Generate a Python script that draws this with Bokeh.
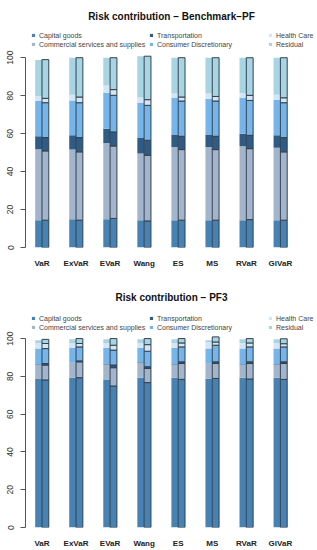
from bokeh.plotting import figure
from bokeh.models import ColumnDataSource, FixedTicker, Legend, LegendItem, Range1d
from bokeh.transform import dodge
from bokeh.layouts import column
from bokeh.embed import file_html
from bokeh.resources import INLINE

methods = ["VaR", "ExVaR", "EVaR", "Wang", "ES", "MS", "RVaR", "GlVaR"]
sectors = ["Capital goods", "Commercial services and supplies", "Transportation",
           "Consumer Discretionary", "Health Care", "Residual"]
colors = ["#4682B4", "#A2B5CD", "#2E5C87", "#74B6EC", "#D2E6F6", "#A8D5E3"]

# ---- Panel 1: Benchmark-PF, left bars (segment sizes, %)
p1_left_capital = [14.4, 14.9, 14.9, 14.4, 14.4, 14.4, 14.4, 14.4]
p1_left_commercial = [37.4, 36.7, 40.2, 35.1, 38.6, 38.6, 38.9, 38.1]
p1_left_transport = [6.8, 7.5, 7.5, 8.2, 6.6, 6.6, 6.7, 6.6]
p1_left_consumer = [18.6, 18.4, 19.0, 18.6, 19.2, 18.8, 18.8, 18.8]
p1_left_health = [2.6, 3.0, 3.8, 2.8, 2.3, 2.7, 2.6, 2.6]
p1_left_residual = [19.0, 19.5, 14.6, 21.7, 18.9, 18.9, 18.6, 19.5]
# ---- Panel 1: right bars
p1_right_capital = [14.4, 14.4, 15.3, 14.0, 14.4, 14.4, 14.7, 14.4]
p1_right_commercial = [36.5, 36.0, 38.2, 34.6, 37.2, 37.2, 37.4, 36.0]
p1_right_transport = [7.0, 7.5, 7.4, 7.9, 7.0, 7.0, 7.0, 7.5]
p1_right_consumer = [18.4, 18.4, 19.3, 18.4, 18.6, 18.6, 18.4, 18.4]
p1_right_health = [2.3, 3.0, 3.0, 3.0, 2.1, 2.4, 2.7, 2.6]
p1_right_residual = [20.4, 20.7, 16.8, 22.9, 20.7, 20.4, 19.8, 21.1]

# ---- Panel 2: PF3, left bars
p2_left_capital = [78.6, 79.3, 78.4, 79.3, 79.3, 78.9, 79.3, 79.3]
p2_left_commercial = [7.7, 7.9, 7.9, 8.1, 7.0, 7.6, 7.0, 7.0]
p2_left_transport = [0.2, 0.2, 0.2, 0.2, 0.2, 0.2, 0.2, 0.2]
p2_left_consumer = [8.2, 7.7, 8.6, 7.5, 8.6, 8.0, 8.2, 8.2]
p2_left_health = [3.0, 2.6, 2.6, 2.6, 2.6, 3.5, 3.0, 3.0]
p2_left_residual = [1.4, 1.9, 1.9, 1.9, 1.9, 0.9, 1.9, 1.9]
# ---- Panel 2: right bars
p2_right_capital = [78.1, 79.3, 74.9, 76.7, 78.4, 78.9, 78.6, 78.4]
p2_right_commercial = [7.9, 8.4, 9.7, 7.5, 8.4, 7.9, 8.2, 8.4]
p2_right_transport = [0.8, 0.5, 1.4, 0.9, 0.9, 0.9, 0.9, 0.9]
p2_right_consumer = [7.9, 7.4, 7.9, 8.2, 7.9, 8.8, 7.9, 7.9]
p2_right_health = [2.7, 1.8, 2.6, 3.5, 2.1, 1.7, 2.1, 1.7]
p2_right_residual = [2.2, 2.6, 3.5, 3.2, 2.3, 2.7, 2.3, 2.6]

y_ticks = [0, 20, 40, 60, 80, 100]

FONT = "Liberation Sans"
keys = ["s0", "s1", "s2", "s3", "s4", "s5"]


def make_source(segs):
    d = {"x": list(range(len(methods)))}
    for k, s in zip(keys, segs):
        d[k] = s
    return ColumnDataSource(d)


def make_panel(title, left, right, height, top_border, bottom_border, y_top, leg_y, t_standoff):
    p = figure(width=317, height=height, output_backend="svg", toolbar_location=None,
               x_range=Range1d(-0.484, 8.09), y_range=Range1d(0, y_top),
               min_border_left=25, min_border_right=0,
               min_border_top=top_border, min_border_bottom=bottom_border)
    p.outline_line_color = None
    p.grid.grid_line_color = None
    p.background_fill_color = "white"

    src_l = make_source(left)
    src_r = make_source(right)
    rl = p.vbar_stack(keys, x=dodge("x", -0.1, range=p.x_range), width=0.2, source=src_l,
                      fill_color=colors, line_color=None)
    p.vbar_stack(keys, x=dodge("x", 0.1, range=p.x_range), width=0.2, source=src_r,
                 fill_color=colors, line_color="#34404c", line_width=1)

    # y axis (R style)
    ya = p.yaxis[0]
    ya.ticker = FixedTicker(ticks=y_ticks)
    ya.bounds = (0, 100)
    ya.axis_line_color = "#555555"
    ya.major_tick_line_color = "#555555"
    ya.major_tick_out = 5
    ya.major_tick_in = 0
    ya.minor_tick_line_color = None
    ya.major_label_orientation = "vertical"
    ya.major_label_standoff = 7
    ya.major_label_text_font = FONT
    ya.major_label_text_font_size = "8.5px"
    ya.major_label_text_color = "#333333"

    xa = p.xaxis[0]
    xa.ticker = FixedTicker(ticks=list(range(len(methods))))
    xa.major_label_overrides = {i: m for i, m in enumerate(methods)}
    xa.axis_line_color = None
    xa.major_tick_line_color = None
    xa.major_tick_out = 0
    xa.major_tick_in = 0
    xa.minor_tick_line_color = None
    xa.major_label_standoff = 11
    xa.major_label_text_font = FONT
    xa.major_label_text_font_style = "bold"
    xa.major_label_text_font_size = "8px"
    xa.major_label_text_color = "#222222"

    p.title.text = title
    p.title.align = "center"
    p.title.text_font = FONT
    p.title.text_font_size = "10px"
    p.title.text_font_style = "bold"
    p.title.text_color = "#111111"
    p.title.standoff = t_standoff

    cols = [(0, 1, 6), (2, 3, 124), (4, 5, 243)]
    for a, b, lx in cols:
        items = [LegendItem(label=sectors[a], renderers=[rl[a]]),
                 LegendItem(label=sectors[b], renderers=[rl[b]])]
        lg = Legend(items=items, location=(lx, leg_y), orientation="vertical",
                    glyph_width=4, glyph_height=4, label_standoff=4,
                    label_text_font=FONT, label_text_font_size="7px",
                    label_text_color="#444444", label_height=8, spacing=1,
                    padding=0, margin=0, border_line_color=None,
                    background_fill_alpha=0)
        p.add_layout(lg, "center")
    return p


p1 = make_panel("Risk contribution \u2212 Benchmark\u2212PF",
                [p1_left_capital, p1_left_commercial, p1_left_transport,
                 p1_left_consumer, p1_left_health, p1_left_residual],
                [p1_right_capital, p1_right_commercial, p1_right_transport,
                 p1_right_consumer, p1_right_health, p1_right_residual],
                280, 28, 33, 115.4, 199, 13)
p2 = make_panel("Risk contribution \u2212 PF3",
                [p2_left_capital, p2_left_commercial, p2_left_transport,
                 p2_left_consumer, p2_left_health, p2_left_residual],
                [p2_right_capital, p2_right_commercial, p2_right_transport,
                 p2_right_consumer, p2_right_health, p2_right_residual],
                270, 29, 22, 115.4, 196, 14)

layout = column(p1, p2, spacing=0)
open("out.html", "w").write(file_html(layout, INLINE))
